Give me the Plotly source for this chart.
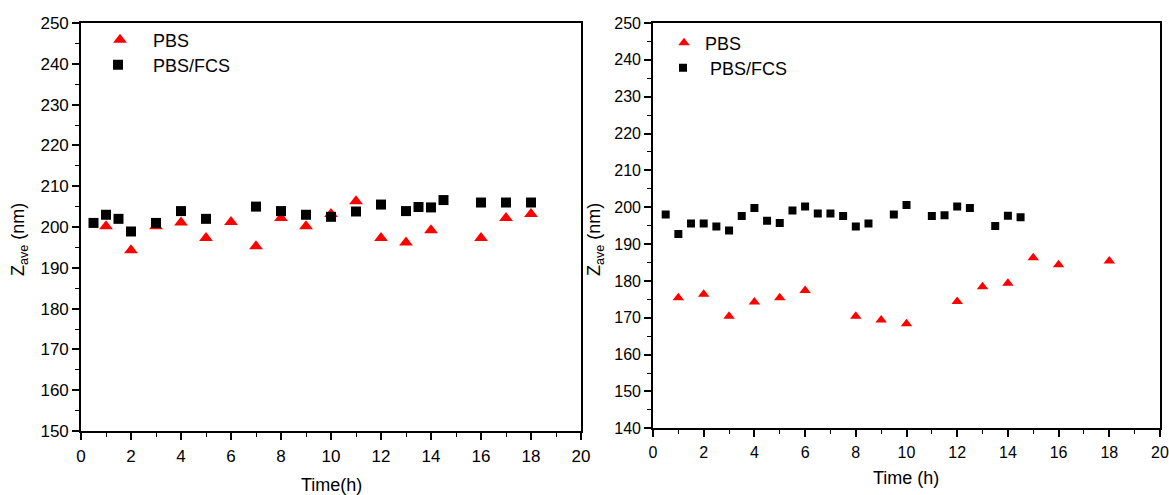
import plotly.graph_objects as go

# ---- Left panel data ----
left_pbs_t = [1, 2, 3, 4, 5, 6, 7, 8, 9, 10, 11, 12, 13, 14, 16, 17, 18]
left_pbs_z = [200.2, 194.3, 200.2, 201.1, 197.3, 201.2, 195.3, 202.2, 200.2, 203.2,
              206.3, 197.3, 196.2, 199.2, 197.3, 202.2, 203.2]
left_fcs_t = [0.5, 1, 1.5, 2, 3, 4, 5, 7, 8, 9, 10, 11, 12, 13, 13.5, 14, 14.5, 16, 17, 18]
left_fcs_z = [201, 203, 202, 198.9, 201, 203.9, 202, 205, 203.9, 203, 202.5, 203.8,
              205.5, 203.9, 204.9, 204.8, 206.6, 206, 206, 206]

# ---- Right panel data ----
right_pbs_t = [1, 2, 3, 4, 5, 6, 8, 9, 10, 12, 13, 14, 15, 16, 18]
right_pbs_z = [175.4, 176.4, 170.4, 174.3, 175.4, 177.4, 170.4, 169.4, 168.4, 174.4,
               178.4, 179.4, 186.3, 184.4, 185.4]
right_fcs_t = [0.5, 1, 1.5, 2, 2.5, 3, 3.5, 4, 4.5, 5, 5.5, 6, 6.5, 7, 7.5, 8, 8.5,
               9.5, 10, 11, 11.5, 12, 12.5, 13.5, 14, 14.5]
right_fcs_z = [198.0, 192.7, 195.6, 195.6, 194.8, 193.7, 197.6, 199.8, 196.3, 195.7,
               199.1, 200.2, 198.3, 198.3, 197.6, 194.8, 195.6, 198.0, 200.6, 197.6,
               197.8, 200.2, 199.8, 194.9, 197.7, 197.3]

left_labels = ["PBS", "PBS/FCS"]
right_labels = ["PBS", " PBS/FCS"]

W, H = 1169, 495
FONT = "Liberation Sans, Arial, sans-serif"

fig = go.Figure()

fig.add_trace(go.Scatter(x=left_pbs_t, y=left_pbs_z, mode="markers", name=left_labels[0],
                         marker=dict(symbol="triangle-up", size=12, color="#ff0000"),
                         xaxis="x", yaxis="y", legend="legend", showlegend=True))
fig.add_trace(go.Scatter(x=left_fcs_t, y=left_fcs_z, mode="markers", name=left_labels[1],
                         marker=dict(symbol="square", size=10, color="#000000"),
                         xaxis="x", yaxis="y", legend="legend2", showlegend=True))
fig.add_trace(go.Scatter(x=right_pbs_t, y=right_pbs_z, mode="markers", name=right_labels[0],
                         marker=dict(symbol="triangle-up", size=10, color="#ff0000"),
                         xaxis="x2", yaxis="y2", legend="legend3", showlegend=True))
fig.add_trace(go.Scatter(x=right_fcs_t, y=right_fcs_z, mode="markers", name=right_labels[1],
                         marker=dict(symbol="square", size=8, color="#000000"),
                         xaxis="x2", yaxis="y2", legend="legend4", showlegend=True))

def xax(domain, anchor, fs):
    return dict(domain=domain, anchor=anchor, range=[0, 20], tick0=0, dtick=2,
                showline=True, linecolor="black", linewidth=1.6, mirror=True,
                ticks="outside", ticklen=7, tickwidth=1.6, tickcolor="black",
                minor=dict(dtick=1, ticks="outside", ticklen=4, tickwidth=1.4, tickcolor="black"),
                showgrid=False, zeroline=False, ticklabelstandoff=2, automargin=False,
                tickfont=dict(family=FONT, size=fs, color="black"))

def yax(domain, anchor, rng, fs):
    return dict(domain=domain, anchor=anchor, range=rng, tick0=rng[0], dtick=10,
                showline=True, linecolor="black", linewidth=1.6, mirror=True,
                ticks="outside", ticklen=7, tickwidth=1.6, tickcolor="black",
                minor=dict(dtick=5, ticks="outside", ticklen=4, tickwidth=1.4, tickcolor="black"),
                showgrid=False, zeroline=False, automargin=False,
                tickfont=dict(family=FONT, size=fs, color="black"))

lx0, lx1 = 81 / W, 581 / W
rx0, rx1 = 653 / W, 1160 / W
ly0, ly1 = 1 - 431 / H, 1 - 23 / H
ry0, ry1 = 1 - 428.3 / H, 1 - 23 / H

def leg(marker_cx, cy, gap):
    itemw = max(30, 2 * gap - 10)
    return dict(x=(marker_cx - (itemw + 10) / 2) / W, y=1 - cy / H,
                xanchor="left", yanchor="middle", visible=True,
                bgcolor="rgba(0,0,0,0)", borderwidth=0, itemwidth=itemw,
                font=dict(family=FONT, size=18, color="black"), tracegroupgap=0)

def ann(text, cx, cy, angle=0):
    return dict(text=text, textangle=angle, x=cx / W, y=1 - cy / H,
                xref="paper", yref="paper", xanchor="center", yanchor="middle",
                showarrow=False, font=dict(family=FONT, size=18, color="black"))

fig.update_layout(
    width=W, height=H, margin=dict(l=0, r=0, t=0, b=0, autoexpand=False),
    paper_bgcolor="white", plot_bgcolor="white", showlegend=True,
    font=dict(family=FONT, color="black"),
    xaxis=xax([lx0, lx1], "y", 17),
    yaxis=yax([ly0, ly1], "x", [150, 250], 17),
    xaxis2=xax([rx0, rx1], "y2", 16),
    yaxis2=yax([ry0, ry1], "x2", [140, 250], 16),
    legend=leg(120, 40, 33),
    legend2=leg(118, 65, 35),
    legend3=leg(684, 43, 21),
    legend4=leg(683, 68, 22),
    annotations=[
        ann("Z<sub>ave</sub> (nm)", 19, 240, -90),
        ann("Z<sub>ave</sub> (nm)", 595, 240, -90),
        ann("Time(h)", 331, 485),
        ann("Time (h)", 906, 478),
    ],
)

fig.write_html("out.html")
